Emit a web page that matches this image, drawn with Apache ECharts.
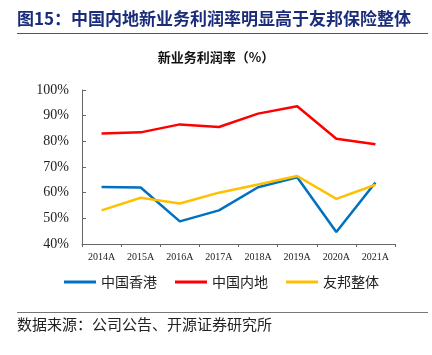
<!DOCTYPE html>
<html><head><meta charset="utf-8">
<script src="https://cdn.jsdelivr.net/npm/echarts@6/dist/echarts.min.js"></script>
<style>html,body{margin:0;padding:0;background:#fff;}#c{width:432px;height:355px;}</style>
</head><body><div id="c"></div>
<script>
var categories = ['2014A','2015A','2016A','2017A','2018A','2019A','2020A','2021A'];
var hongKong = [62.2, 62.0, 48.8, 53.1, 62.1, 66.0, 44.7, 64.0];
var mainland = [83.1, 83.5, 86.6, 85.6, 90.8, 93.7, 81.0, 78.9];
var aiaGroup = [53.1, 58.0, 55.8, 60.0, 63.2, 66.5, 57.6, 63.1];
var seriesNames = ['中国香港','中国内地','友邦整体'];
var yTicks = {min: 40, max: 100, interval: 10};

var chart = echarts.init(document.getElementById('c'), null, {renderer:'canvas'});
var cjk = 'Noto Sans CJK SC';
var serif = 'Liberation Serif';
chart.setOption({
  animation: false,
  graphic: [
    {type:'text', left:17, top:10, style:{text:'图15：中国内地新业务利润率明显高于友邦保险整体', fontSize:17, fontWeight:'bold', fontFamily:cjk, fill:'#1B2D7A'}},
    {type:'line', shape:{x1:17, y1:33.5, x2:428, y2:33.5}, style:{stroke:'#555', lineWidth:1}},
    {type:'text', left:'center', top:51, style:{text:'新业务利润率（%）', fontSize:13, fontWeight:'bold', fontFamily:cjk, fill:'#111'}},
    {type:'line', shape:{x1:17, y1:312.5, x2:428, y2:312.5}, style:{stroke:'#777', lineWidth:1}},
    {type:'text', left:17, top:317, style:{text:'数据来源：公司公告、开源证券研究所', fontSize:15, fontFamily:cjk, fill:'#222'}}
  ],
  legend: {
    data: seriesNames, top: 275, left: 64, padding: 0, itemWidth: 32, itemHeight: 3, itemGap: 18,
    icon: 'rect',
    textStyle: {fontFamily: cjk, fontSize: 14, color:'#222'}
  },
  grid: {left: 82, right: 37, top: 90, bottom: 111, containLabel: false},
  xAxis: {
    type: 'category', data: categories, boundaryGap: true,
    axisLine: {lineStyle: {color:'#666', width:1}},
    axisTick: {show:true, inside:false, length:3, alignWithLabel:false, lineStyle:{color:'#666'}},
    axisLabel: {fontFamily: serif, fontSize: 10, color:'#222', margin: 8}
  },
  yAxis: {
    type: 'value', min: yTicks.min, max: yTicks.max, interval: yTicks.interval,
    axisLine: {show:true, lineStyle: {color:'#666', width:1}},
    axisTick: {show:true, inside:true, length:4, lineStyle:{color:'#666'}},
    splitLine: {show:false},
    axisLabel: {fontFamily: serif, fontSize: 14, color:'#222', margin: 13, formatter: '{value}%'}
  },
  series: [
    {name: seriesNames[0], type:'line', data: hongKong, symbol:'none', lineStyle:{width:2.5, color:'#0070C0'}, itemStyle:{color:'#0070C0'}},
    {name: seriesNames[1], type:'line', data: mainland, symbol:'none', lineStyle:{width:2.5, color:'#FF0000'}, itemStyle:{color:'#FF0000'}},
    {name: seriesNames[2], type:'line', data: aiaGroup, symbol:'none', lineStyle:{width:2.5, color:'#FFC000'}, itemStyle:{color:'#FFC000'}}
  ]
});
</script></body></html>
